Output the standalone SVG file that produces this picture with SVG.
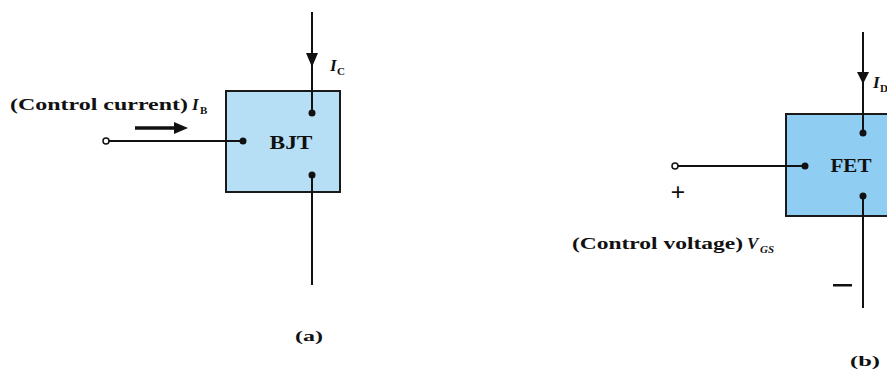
<svg xmlns="http://www.w3.org/2000/svg" width="887" height="370" viewBox="0 0 887 370">
<style>
.box{stroke:#1a1a1a;stroke-width:2}
.w{stroke:#111;stroke-width:2;fill:none}
.dot{fill:#111}
.t{font-family:"Liberation Serif","Times New Roman",serif;font-weight:bold;fill:#111}
.i{font-style:italic}
</style>
<rect width="887" height="370" fill="#fff"/>
<g id="bjt">
<rect class="box" x="226" y="91" width="114" height="101" fill="#b6dff6"/>
<circle class="dot" cx="243" cy="141" r="3.5"/>
<circle class="dot" cx="312" cy="113" r="3.5"/>
<circle class="dot" cx="312" cy="175" r="3.5"/>
<text class="t" x="291" y="149" font-size="18" textLength="43" lengthAdjust="spacingAndGlyphs" text-anchor="middle">BJT</text>
</g>
<g id="fet">
<rect class="box" x="786" y="114" width="114" height="102" fill="#8fcdf3"/>
<circle class="dot" cx="805" cy="166" r="3.5"/>
<circle class="dot" cx="863" cy="133" r="3.5"/>
<circle class="dot" cx="863" cy="196" r="3.5"/>
<text class="t" x="851" y="172" font-size="18" textLength="41" lengthAdjust="spacingAndGlyphs" text-anchor="middle">FET</text>
</g>
<g id="connectors">
<line class="w" x1="312" y1="12" x2="312" y2="113"/>
<path d="M306,53 L318,53 L312,67 Z" fill="#111"/>
<line class="w" x1="312" y1="175" x2="312" y2="285"/>
<line class="w" x1="109" y1="141" x2="243" y2="141"/>
<circle cx="106" cy="141" r="3" fill="#fff" stroke="#111" stroke-width="1.5"/>
<line x1="135" y1="128" x2="178" y2="128" stroke="#111" stroke-width="3.5"/>
<path d="M174,122 L188,128 L174,134 Z" fill="#111"/>
<line class="w" x1="863" y1="32" x2="863" y2="133"/>
<path d="M857,72 L869,72 L863,84 Z" fill="#111"/>
<line class="w" x1="863" y1="196" x2="863" y2="308"/>
<line class="w" x1="678" y1="166" x2="805" y2="166"/>
<circle cx="675" cy="166" r="3" fill="#fff" stroke="#111" stroke-width="1.5"/>
</g>
<g id="labels">
<text class="t" x="10" y="110" font-size="17" textLength="178" lengthAdjust="spacingAndGlyphs">(Control current)</text>
<text class="t i" x="192" y="110" font-size="17">I</text>
<text class="t" x="200" y="114" font-size="11">B</text>
<text class="t i" x="330" y="71" font-size="17">I</text>
<text class="t" x="337" y="75" font-size="11">C</text>
<text class="t i" x="873" y="88" font-size="17">I</text>
<text class="t" x="880" y="92" font-size="11">D</text>
<text class="t" x="678" y="201" font-size="26" text-anchor="middle">+</text>
<rect x="833" y="284" width="19" height="2.5" fill="#111"/>
<text class="t" x="572" y="249" font-size="17" textLength="171" lengthAdjust="spacingAndGlyphs">(Control voltage)</text>
<text class="t i" x="747" y="249" font-size="17">V</text>
<text class="t i" x="760" y="253" font-size="11">GS</text>
<text class="t" x="309" y="341" font-size="15" textLength="28" lengthAdjust="spacingAndGlyphs" text-anchor="middle">(a)</text>
<text class="t" x="865" y="366" font-size="15" textLength="30" lengthAdjust="spacingAndGlyphs" text-anchor="middle">(b)</text>
</g>
</svg>
